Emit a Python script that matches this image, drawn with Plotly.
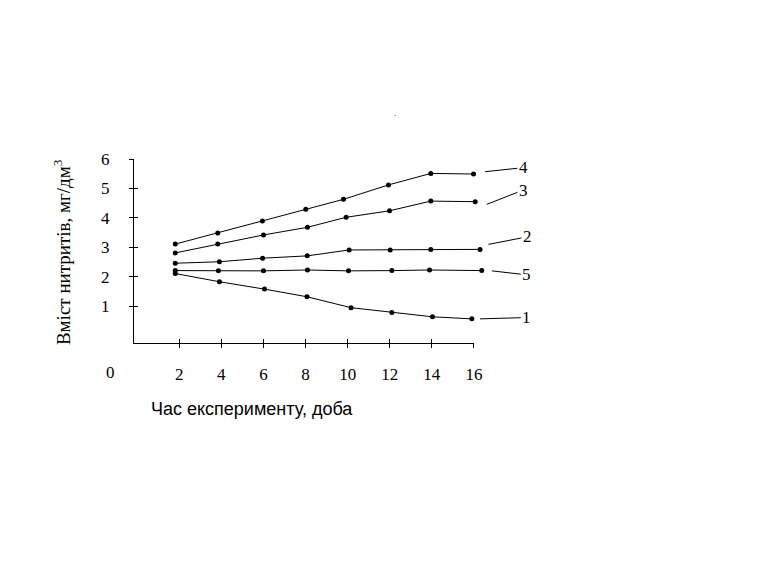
import plotly.graph_objects as go

x_s1 = [1.81, 3.91, 6.05, 8.07, 10.16, 12.10, 14.03, 15.90]
y_s1 = [2.11, 1.83, 1.58, 1.32, 0.95, 0.79, 0.64, 0.57]

x_s2 = [1.81, 3.91, 5.96, 8.08, 10.07, 12.02, 13.95, 16.29]
y_s2 = [2.46, 2.51, 2.63, 2.71, 2.91, 2.91, 2.93, 2.93]

x_s3 = [1.81, 3.83, 6.00, 8.09, 9.93, 11.99, 13.95, 16.06]
y_s3 = [2.81, 3.11, 3.42, 3.68, 4.02, 4.24, 4.57, 4.55]

x_s4 = [1.81, 3.83, 5.95, 8.01, 9.80, 11.94, 13.95, 15.98]
y_s4 = [3.11, 3.49, 3.89, 4.29, 4.63, 5.12, 5.51, 5.49]

x_s5 = [1.81, 3.86, 6.00, 8.09, 10.04, 12.10, 13.89, 16.37]
y_s5 = [2.21, 2.20, 2.20, 2.23, 2.20, 2.21, 2.23, 2.21]

series_labels = ["1", "2", "3", "4", "5"]
x_ticks = [2, 4, 6, 8, 10, 12, 14, 16]
y_ticks = [1, 2, 3, 4, 5, 6]

x_title = "Час експерименту, доба"
y_title = "Вміст нитритів, мг/дм<sup>3</sup>"

# ---- figure ----
SERIF = "Liberation Serif"
SANS = "Liberation Sans"
X_RANGE_DATA = [-0.15, 17.0]
X_RANGE_AXIS = [-0.15, 16.0]
Y_RANGE = [-0.25, 6.0]

fig = go.Figure()
series = [(x_s1, y_s1), (x_s2, y_s2), (x_s3, y_s3), (x_s4, y_s4), (x_s5, y_s5)]

# helper (empty) traces so the decorative axes are drawn
fig.add_trace(go.Scatter(x=[], y=[], xaxis="x2", yaxis="y", showlegend=False))
fig.add_trace(go.Scatter(x=[], y=[], xaxis="x3", yaxis="y", showlegend=False))
fig.add_trace(go.Scatter(x=[], y=[], xaxis="x", yaxis="y2", showlegend=False))

for (xs, ys), lab in zip(series, series_labels):
    fig.add_trace(go.Scatter(
        x=xs, y=ys, mode="lines+markers", name=lab,
        xaxis="x", yaxis="y",
        line=dict(color="black", width=1),
        marker=dict(color="black", size=5),
        cliponaxis=False, showlegend=False, hoverinfo="skip"))

dom2 = (X_RANGE_AXIS[1] - X_RANGE_AXIS[0]) / (X_RANGE_DATA[1] - X_RANGE_DATA[0])

tickfont = dict(family=SERIF, size=17, color="black")

fig.update_layout(
    width=784, height=565,
    margin=dict(l=126, r=296.6, t=151, b=230),
    paper_bgcolor="white", plot_bgcolor="rgba(0,0,0,0)",
    showlegend=False,
    xaxis=dict(range=X_RANGE_DATA, domain=[0, 1], visible=False, anchor="y"),
    xaxis2=dict(range=X_RANGE_AXIS, domain=[0, dom2], anchor="y",
                tickvals=x_ticks, ticks="outside", ticklen=4, tickcolor="black",
                showline=True, linecolor="black", linewidth=1,
                showgrid=False, zeroline=False, tickfont=tickfont,
                ticklabelstandoff=12),
    xaxis3=dict(range=X_RANGE_AXIS, overlaying="x2", anchor="y",
                tickvals=x_ticks, ticks="inside", ticklen=4, tickcolor="black",
                showticklabels=False, showline=False, showgrid=False, zeroline=False),
    yaxis=dict(range=Y_RANGE, anchor="x",
               tickvals=y_ticks, ticks="outside", ticklen=4, tickcolor="black",
               showline=True, linecolor="black", linewidth=1,
               showgrid=False, zeroline=False, tickfont=tickfont,
               ticklabelstandoff=16),
    yaxis2=dict(range=Y_RANGE, overlaying="y", anchor="x",
                tickvals=y_ticks, ticks="inside", ticklen=4, tickcolor="black",
                showticklabels=False, showline=False, showgrid=False, zeroline=False),
)

# series labels with leader lines
label_specs = [
    # label, head x, head y, ax, ay
    ("4", 16.53, 5.57, 38.3, -4.0),
    ("3", 16.61, 4.46, 36.6, -14.3),
    ("2", 16.69, 3.10, 39.0, -7.6),
    ("5", 16.85, 2.20, 35.0, 4.0),
    ("1", 16.29, 0.57, 46.7, -1.3),
]
for lab, hx, hy, ax, ay in label_specs:
    fig.add_annotation(x=hx, y=hy, xref="x", yref="y", text=lab,
                       showarrow=True, arrowhead=0, arrowwidth=1, arrowcolor="black",
                       standoff=0, ax=ax, ay=ay,
                       font=dict(family=SERIF, size=17, color="black"))

# axis titles and origin label (paper coords relative to the plot area)
plot_w = 784 - 126 - 296.6
fig.add_annotation(text=y_title, xref="paper", yref="paper", x=(62 - 134) / plot_w, y=0.4946,
                   textangle=-90, showarrow=False, xanchor="center", yanchor="middle",
                   font=dict(family=SERIF, size=19, color="black"))
fig.add_annotation(text=x_title, xref="paper", yref="paper", x=(251.7 - 134) / plot_w, y=-0.361,
                   showarrow=False, xanchor="center", yanchor="middle",
                   font=dict(family=SANS, size=18, color="black"))
fig.add_annotation(text="0", xref="paper", yref="paper", x=(110 - 134) / plot_w, y=-0.163,
                   showarrow=False, xanchor="center", yanchor="middle",
                   font=dict(family=SERIF, size=17, color="black"))
fig.add_annotation(text=".", xref="paper", yref="paper", x=(395 - 134) / plot_w, y=1.248,
                   showarrow=False, xanchor="center", yanchor="middle",
                   font=dict(family=SERIF, size=9, color="black"))

fig.write_html("out.html")
